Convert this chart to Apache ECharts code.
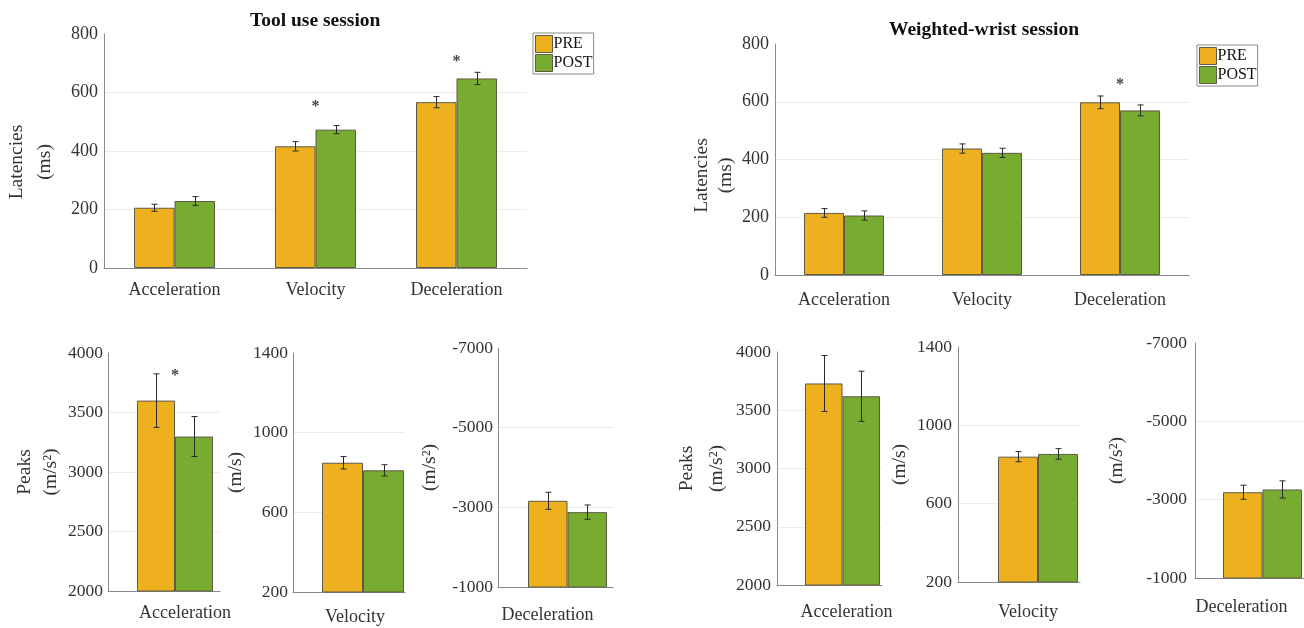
<!DOCTYPE html>
<html><head><meta charset="utf-8">
<script src="https://cdn.jsdelivr.net/npm/echarts@6/dist/echarts.min.js"></script>
<style>html,body{margin:0;padding:0;background:#fff}#c{width:1304px;height:628px}</style>
</head><body><div id="c"></div>
<script>
// ---------------- data ----------------
const latCategories = ['Acceleration', 'Velocity', 'Deceleration'];
const latTickValues = [0, 200, 400, 600, 800];

const toolLatPre      = [206, 416, 567];
const toolLatPreErr   = [12, 16, 19];
const toolLatPost     = [229, 473, 648];
const toolLatPostErr  = [15, 14, 21];
const toolLatSig      = [null, 564, 718];

const wristLatPre     = [215, 438, 598];
const wristLatPreErr  = [15, 16, 22];
const wristLatPost    = [206, 423, 570];
const wristLatPostErr = [16, 16, 19];
const wristLatSig     = [null, null, 672];

const peakCategories  = ['Acceleration', 'Velocity', 'Deceleration'];
const accTickValues   = [2000, 2500, 3000, 3500, 4000];
const velTickValues   = [200, 600, 1000, 1400];
const decTickValues   = [-7000, -5000, -3000, -1000];

const toolPeakPre      = [3600, 849, -3164];
const toolPeakPreErr   = [225, 31, 214];
const toolPeakPost     = [3298, 811, -2879];
const toolPeakPostErr  = [168, 28, 180];
const toolPeakSig      = [3840, null, null];

const wristPeakPre     = [3730, 840, -3190];
const wristPeakPreErr  = [240, 26, 180];
const wristPeakPost    = [3620, 854, -3260];
const wristPeakPostErr = [215, 27, 220];
const wristPeakSig     = [null, null, null];

const seriesNames = ['PRE', 'POST'];

// ---------------- styling / layout ----------------
const FONT = 'Liberation Serif';
const C_PRE = '#EDB120', C_POST = '#77AC30';
const AXIS_C = '#8a8a8a', GRID_C = '#ebebeb', TXT = '#333';

function one(arr, i) { return [arr[i]]; }

// ghost: empty spacer (px) placed left of the bar pair so the pair sits where the original has it
const panels = [
  { grid: {left: 104, top: 34, width: 423, height: 234}, cats: latCategories,
    pre: toolLatPre, preErr: toolLatPreErr, post: toolLatPost, postErr: toolLatPostErr, sig: toolLatSig,
    ticks: latTickValues, inverse: false, barW: 40.5, ghost: 0, name: 'Latencies\n(ms)', nameGap: 45, nameLH: 28, namePad: [0, 22, 0, 0],
    yFont: 18, yMargin: 6, xMargin: 13, xShift: 0 },
  { grid: {left: 775, top: 44, width: 414, height: 231}, cats: latCategories,
    pre: wristLatPre, preErr: wristLatPreErr, post: wristLatPost, postErr: wristLatPostErr, sig: wristLatSig,
    ticks: latTickValues, inverse: false, barW: 40, ghost: 0, name: 'Latencies\n(ms)', nameGap: 36, nameLH: 24, namePad: [0, 32, 0, 0],
    yFont: 18, yMargin: 6, xMargin: 16, xShift: 0 },
  { grid: {left: 108, top: 353, width: 112, height: 238}, cats: one(peakCategories, 0),
    pre: one(toolPeakPre, 0), preErr: one(toolPeakPreErr, 0), post: one(toolPeakPost, 0), postErr: one(toolPeakPostErr, 0), sig: one(toolPeakSig, 0),
    ticks: accTickValues, inverse: false, barW: 38, ghost: 22, name: 'Peaks\n(m/s²)', nameGap: 42, nameLH: 26, namePad: [0, 0, 0, 0],
    yFont: 17.5, yMargin: 5, xMargin: 13, xShift: 21 },
  { grid: {left: 293, top: 353, width: 112, height: 239}, cats: one(peakCategories, 1),
    pre: one(toolPeakPre, 1), preErr: one(toolPeakPreErr, 1), post: one(toolPeakPost, 1), postErr: one(toolPeakPostErr, 1), sig: one(toolPeakSig, 1),
    ticks: velTickValues, inverse: false, barW: 41, ghost: 28, name: '(m/s)', nameGap: 42, nameLH: 26, namePad: [0, 0, 0, 0],
    yFont: 17.5, yMargin: 5, xMargin: 16, xShift: 6 },
  { grid: {left: 498, top: 348, width: 115, height: 239}, cats: one(peakCategories, 2),
    pre: one(toolPeakPre, 2), preErr: one(toolPeakPreErr, 2), post: one(toolPeakPost, 2), postErr: one(toolPeakPostErr, 2), sig: one(toolPeakSig, 2),
    ticks: decTickValues, inverse: true, barW: 39.5, ghost: 24, name: '(m/s²)', nameGap: 55, nameLH: 26, namePad: [0, 0, 0, 0],
    yFont: 17.5, yMargin: 5, xMargin: 19, xShift: -8 },
  { grid: {left: 777, top: 352, width: 105, height: 233}, cats: one(peakCategories, 0),
    pre: one(wristPeakPre, 0), preErr: one(wristPeakPreErr, 0), post: one(wristPeakPost, 0), postErr: one(wristPeakPostErr, 0), sig: one(wristPeakSig, 0),
    ticks: accTickValues, inverse: false, barW: 37.5, ghost: 26, name: 'Peaks\n(m/s²)', nameGap: 37, nameLH: 30, namePad: [0, 0, 0, 0],
    yFont: 17.5, yMargin: 6, xMargin: 18, xShift: 17 },
  { grid: {left: 958, top: 347, width: 122, height: 235}, cats: one(peakCategories, 1),
    pre: one(wristPeakPre, 1), preErr: one(wristPeakPreErr, 1), post: one(wristPeakPost, 1), postErr: one(wristPeakPostErr, 1), sig: one(wristPeakSig, 1),
    ticks: velTickValues, inverse: false, barW: 40, ghost: 38, name: '(m/s)', nameGap: 35, nameLH: 26, namePad: [0, 0, 0, 0],
    yFont: 17.5, yMargin: 6, xMargin: 21, xShift: 9 },
  { grid: {left: 1195, top: 343, width: 109, height: 235}, cats: one(peakCategories, 2),
    pre: one(wristPeakPre, 2), preErr: one(wristPeakPreErr, 2), post: one(wristPeakPost, 2), postErr: one(wristPeakPostErr, 2), sig: one(wristPeakSig, 2),
    ticks: decTickValues, inverse: true, barW: 39.5, ghost: 26, name: '(m/s²)', nameGap: 65, nameLH: 26, namePad: [0, 0, 0, 0],
    yFont: 17.5, yMargin: 8, xMargin: 20, xShift: -8 }
];

function errRender(offset) {
  return function (params, api) {
    const k = api.value(0), v = api.value(1), e = api.value(2);
    const c = api.coord([k, v]);
    const x = Math.round(c[0] + offset) + 0.5;
    const yT = api.coord([k, v + e])[1];
    const yB = api.coord([k, v - e])[1];
    const h = 3;
    const st = {stroke: '#2a2a2a', lineWidth: 1};
    return {type: 'group', children: [
      {type: 'line', shape: {x1: x, y1: yT, x2: x, y2: yB}, style: st},
      {type: 'line', shape: {x1: x - h, y1: yT, x2: x + h, y2: yT}, style: st},
      {type: 'line', shape: {x1: x - h, y1: yB, x2: x + h, y2: yB}, style: st}
    ]};
  };
}

const grids = [], xAxes = [], yAxes = [], series = [];
panels.forEach((p, i) => {
  grids.push(Object.assign({outerBoundsMode: 'none', containLabel: false}, p.grid));
  const sh = p.xShift;
  xAxes.push({
    type: 'category', gridIndex: i, data: p.cats, boundaryGap: true,
    axisLine: {show: true, onZero: false, lineStyle: {color: AXIS_C, width: 1}},
    axisTick: {show: false},
    axisLabel: {fontFamily: FONT, fontSize: 18, color: TXT, margin: p.xMargin,
      padding: sh >= 0 ? [0, 0, 0, 2 * sh] : [0, -2 * sh, 0, 0]},
    splitLine: {show: false}
  });
  const n = p.ticks.length;
  const topIdx = p.inverse ? 0 : n - 1, botIdx = p.inverse ? n - 1 : 0;
  const lineColors = p.ticks.map((t, j) => (j === topIdx || j === botIdx) ? 'rgba(0,0,0,0)' : GRID_C);
  yAxes.push({
    type: 'value', gridIndex: i, inverse: p.inverse,
    min: p.ticks[0], max: p.ticks[n - 1], interval: p.ticks[1] - p.ticks[0],
    axisLine: {show: true, lineStyle: {color: AXIS_C, width: 1}},
    axisTick: {show: false},
    axisLabel: {fontFamily: FONT, fontSize: p.yFont, color: TXT, margin: p.yMargin,
      formatter: v => String(v)},
    splitLine: {show: true, lineStyle: {color: lineColors, width: 1}},
    name: p.name, nameLocation: 'middle', nameRotate: 90, nameGap: p.nameGap,
    nameTextStyle: {fontFamily: FONT, fontSize: 19.5, color: TXT, lineHeight: p.nameLH, padding: p.namePad}
  });

  // bar group geometry (px, relative to band centre)
  const groupW = p.ghost + 2 * p.barW;
  const preOff = -groupW / 2 + p.ghost + p.barW / 2;
  const postOff = preOff + p.barW;

  if (p.ghost > 0) {
    series.push({
      type: 'bar', xAxisIndex: i, yAxisIndex: i, data: p.cats.map(() => null),
      barWidth: p.ghost, barGap: '0%', silent: true, itemStyle: {color: 'rgba(0,0,0,0)'}
    });
  }
  [[seriesNames[0], p.pre, C_PRE], [seriesNames[1], p.post, C_POST]].forEach(([nm, vals, col]) => {
    series.push({
      name: nm, type: 'bar', xAxisIndex: i, yAxisIndex: i, data: vals,
      barWidth: p.barW, barGap: '0%', clip: true,
      itemStyle: {color: col, borderColor: '#5e5a45', borderWidth: 1},
      emphasis: {disabled: true}
    });
  });
  [[p.pre, p.preErr, preOff], [p.post, p.postErr, postOff]].forEach(([vals, errs, off]) => {
    series.push({
      type: 'custom', xAxisIndex: i, yAxisIndex: i, z: 5, silent: true,
      data: vals.map((v, k) => [k, v, errs[k]]),
      encode: {x: 0, y: 1},
      renderItem: errRender(off)
    });
  });
  const sigData = p.sig.map((v, k) => v == null ? null : [k, v]).filter(Boolean);
  if (sigData.length) {
    series.push({
      type: 'scatter', xAxisIndex: i, yAxisIndex: i, z: 6, silent: true,
      data: sigData, symbolSize: 1, itemStyle: {color: 'rgba(0,0,0,0)'},
      label: {show: true, position: 'inside', formatter: '*', fontFamily: FONT, fontSize: 16,
        fontWeight: 'bold', color: '#111', offset: [(preOff + postOff) / 2, 4]}
    });
  }
});

const legendBase = {
  orient: 'vertical', data: seriesNames, icon: 'rect', itemWidth: 17, itemHeight: 17, itemGap: 1,
  padding: [2, 1, 2, 2], borderColor: '#8a8a8a', borderWidth: 1, backgroundColor: '#fff',
  selectedMode: false,
  itemStyle: {borderColor: '#5e5a45', borderWidth: 1},
  textStyle: {fontFamily: FONT, fontSize: 16, lineHeight: 17, color: '#111', padding: [0, 0, 0, -4]}
};

const option = {
  animation: false,
  backgroundColor: '#fff',
  title: [
    {text: 'Tool use session', left: 250, top: 11, padding: 0,
      textStyle: {fontFamily: FONT, fontSize: 19.5, fontWeight: 'bold', color: '#111'}},
    {text: 'Weighted-wrist session', left: 889, top: 20, padding: 0,
      textStyle: {fontFamily: FONT, fontSize: 19.5, fontWeight: 'bold', color: '#111'}}
  ],
  legend: [
    Object.assign({left: 533, top: 33}, legendBase),
    Object.assign({left: 1197, top: 45}, legendBase)
  ],
  grid: grids, xAxis: xAxes, yAxis: yAxes, series: series
};

const chart = echarts.init(document.getElementById('c'), null, {renderer: 'canvas'});
chart.setOption(option);
</script>
</body></html>
